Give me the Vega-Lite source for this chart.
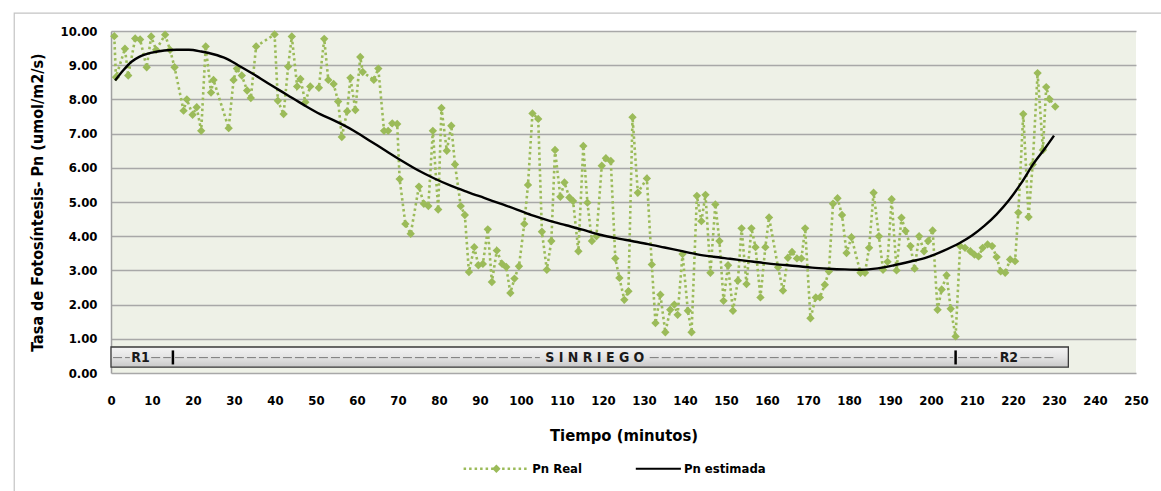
{
  "$schema": "https://vega.github.io/schema/vega-lite/v6.json",
  "width": 1025,
  "height": 342,
  "autosize": {"type": "none"},
  "padding": {"left": 111, "top": 31, "right": 25, "bottom": 118},
  "background": "#ffffff",
  "resolve": {"axis": {"x": "independent", "y": "independent"}},
  "config": {
    "view": {"fill": "#eef1e7", "stroke": null},
    "font": "Liberation Sans Narrow, DejaVu Sans Condensed, sans-serif",
    "axis": {
      "labelFont": "Liberation Sans Narrow, DejaVu Sans Condensed, sans-serif",
      "titleFont": "Liberation Sans Narrow, DejaVu Sans Condensed, sans-serif",
      "labelFontWeight": "bold",
      "titleFontWeight": "bold",
      "labelColor": "#000000",
      "titleColor": "#000000",
      "labelOverlap": false,
      "ticks": false
    }
  },
  "datasets": {
    "real": [
      {"t": 0.8, "pn": 9.85}, {"t": 1.2, "pn": 8.65}, {"t": 3.4, "pn": 9.48}, {"t": 4.2, "pn": 8.7},
      {"t": 5.9, "pn": 9.78}, {"t": 7.1, "pn": 9.75}, {"t": 8.7, "pn": 8.94}, {"t": 9.8, "pn": 9.84},
      {"t": 11.0, "pn": 9.45}, {"t": 13.2, "pn": 9.89}, {"t": 14.4, "pn": 9.45}, {"t": 15.5, "pn": 8.94},
      {"t": 17.7, "pn": 7.67}, {"t": 18.5, "pn": 8.0}, {"t": 19.9, "pn": 7.55}, {"t": 20.9, "pn": 7.77},
      {"t": 22.0, "pn": 7.08}, {"t": 23.1, "pn": 9.55}, {"t": 24.4, "pn": 8.2}, {"t": 25.0, "pn": 8.57},
      {"t": 28.7, "pn": 7.16}, {"t": 29.9, "pn": 8.57}, {"t": 30.7, "pn": 8.9}, {"t": 31.9, "pn": 8.7},
      {"t": 33.2, "pn": 8.26}, {"t": 34.1, "pn": 8.04}, {"t": 35.4, "pn": 9.55}, {"t": 39.9, "pn": 9.9},
      {"t": 40.7, "pn": 7.96}, {"t": 42.1, "pn": 7.57}, {"t": 43.2, "pn": 8.96}, {"t": 44.1, "pn": 9.84},
      {"t": 45.4, "pn": 8.38}, {"t": 46.2, "pn": 8.6}, {"t": 47.4, "pn": 7.92}, {"t": 48.6, "pn": 8.38},
      {"t": 50.7, "pn": 8.34}, {"t": 52.0, "pn": 9.77}, {"t": 53.0, "pn": 8.57}, {"t": 54.3, "pn": 8.45},
      {"t": 55.4, "pn": 7.94}, {"t": 56.3, "pn": 6.9}, {"t": 57.6, "pn": 7.65}, {"t": 58.4, "pn": 8.63},
      {"t": 59.6, "pn": 7.69}, {"t": 60.8, "pn": 9.24}, {"t": 61.4, "pn": 8.8}, {"t": 64.1, "pn": 8.57},
      {"t": 65.2, "pn": 8.9}, {"t": 66.6, "pn": 7.08}, {"t": 67.6, "pn": 7.08}, {"t": 68.6, "pn": 7.3},
      {"t": 69.8, "pn": 7.28}, {"t": 70.4, "pn": 5.67}, {"t": 71.8, "pn": 4.36}, {"t": 73.1, "pn": 4.07},
      {"t": 75.1, "pn": 5.45}, {"t": 76.3, "pn": 4.95}, {"t": 77.4, "pn": 4.88}, {"t": 78.5, "pn": 7.08},
      {"t": 79.8, "pn": 4.78}, {"t": 80.6, "pn": 7.75}, {"t": 81.9, "pn": 6.5}, {"t": 83.0, "pn": 7.23},
      {"t": 83.9, "pn": 6.1}, {"t": 85.3, "pn": 4.88}, {"t": 86.3, "pn": 4.62}, {"t": 87.3, "pn": 2.95},
      {"t": 88.6, "pn": 3.68}, {"t": 89.6, "pn": 3.15}, {"t": 90.7, "pn": 3.19}, {"t": 91.9, "pn": 4.2},
      {"t": 92.9, "pn": 2.66}, {"t": 94.1, "pn": 3.58}, {"t": 95.4, "pn": 3.19}, {"t": 96.4, "pn": 3.1},
      {"t": 97.4, "pn": 2.34}, {"t": 98.4, "pn": 2.76}, {"t": 99.5, "pn": 3.12}, {"t": 100.8, "pn": 4.36},
      {"t": 101.7, "pn": 5.5}, {"t": 102.8, "pn": 7.59}, {"t": 104.2, "pn": 7.43}, {"t": 105.1, "pn": 4.13},
      {"t": 106.3, "pn": 3.02}, {"t": 107.4, "pn": 3.86}, {"t": 108.3, "pn": 6.52}, {"t": 109.6, "pn": 5.15},
      {"t": 110.6, "pn": 5.57}, {"t": 111.8, "pn": 5.13}, {"t": 112.7, "pn": 5.03}, {"t": 114.0, "pn": 3.56},
      {"t": 115.2, "pn": 6.64}, {"t": 116.2, "pn": 4.98}, {"t": 117.3, "pn": 3.86}, {"t": 118.4, "pn": 4.0},
      {"t": 119.7, "pn": 6.06}, {"t": 120.7, "pn": 6.28}, {"t": 121.9, "pn": 6.2}, {"t": 123.0, "pn": 3.35},
      {"t": 124.0, "pn": 2.78}, {"t": 125.2, "pn": 2.14}, {"t": 126.2, "pn": 2.39}, {"t": 127.2, "pn": 7.48},
      {"t": 128.5, "pn": 5.27}, {"t": 130.7, "pn": 5.69}, {"t": 131.9, "pn": 3.17}, {"t": 132.8, "pn": 1.46},
      {"t": 134.0, "pn": 2.29}, {"t": 135.2, "pn": 1.19}, {"t": 136.4, "pn": 1.85}, {"t": 137.4, "pn": 2.0},
      {"t": 138.2, "pn": 1.7}, {"t": 139.4, "pn": 3.48}, {"t": 140.7, "pn": 1.82}, {"t": 141.6, "pn": 1.19},
      {"t": 142.9, "pn": 5.18}, {"t": 144.0, "pn": 4.44}, {"t": 145.0, "pn": 5.21}, {"t": 146.2, "pn": 2.93},
      {"t": 147.4, "pn": 4.93}, {"t": 148.4, "pn": 3.86}, {"t": 149.4, "pn": 2.11}, {"t": 150.5, "pn": 3.15},
      {"t": 151.7, "pn": 1.82}, {"t": 152.9, "pn": 2.7}, {"t": 153.8, "pn": 4.23}, {"t": 155.0, "pn": 2.6},
      {"t": 156.2, "pn": 4.23}, {"t": 157.2, "pn": 3.68}, {"t": 158.4, "pn": 2.21}, {"t": 159.6, "pn": 3.68},
      {"t": 160.5, "pn": 4.55}, {"t": 162.7, "pn": 3.09}, {"t": 163.9, "pn": 2.41}, {"t": 165.1, "pn": 3.37},
      {"t": 166.1, "pn": 3.54}, {"t": 167.3, "pn": 3.35}, {"t": 168.4, "pn": 3.35}, {"t": 169.3, "pn": 4.23},
      {"t": 170.6, "pn": 1.6}, {"t": 171.9, "pn": 2.21}, {"t": 172.9, "pn": 2.21}, {"t": 174.1, "pn": 2.58},
      {"t": 175.1, "pn": 2.97}, {"t": 176.1, "pn": 4.95}, {"t": 177.2, "pn": 5.11}, {"t": 178.3, "pn": 4.62},
      {"t": 179.4, "pn": 3.51}, {"t": 180.6, "pn": 3.97}, {"t": 182.8, "pn": 2.93}, {"t": 183.9, "pn": 2.93},
      {"t": 184.9, "pn": 3.66}, {"t": 186.0, "pn": 5.27}, {"t": 187.3, "pn": 4.0}, {"t": 188.3, "pn": 3.02},
      {"t": 189.4, "pn": 3.25}, {"t": 190.4, "pn": 5.08}, {"t": 191.6, "pn": 3.0}, {"t": 192.8, "pn": 4.54},
      {"t": 193.8, "pn": 4.15}, {"t": 195.0, "pn": 3.71}, {"t": 196.0, "pn": 3.05}, {"t": 197.1, "pn": 4.0},
      {"t": 198.3, "pn": 3.56}, {"t": 199.3, "pn": 3.86}, {"t": 200.4, "pn": 4.17}, {"t": 201.6, "pn": 1.85},
      {"t": 202.6, "pn": 2.44}, {"t": 203.8, "pn": 2.86}, {"t": 204.8, "pn": 1.88}, {"t": 206.0, "pn": 1.07},
      {"t": 207.1, "pn": 3.71}, {"t": 208.3, "pn": 3.66}, {"t": 209.6, "pn": 3.56}, {"t": 210.6, "pn": 3.46},
      {"t": 211.6, "pn": 3.41}, {"t": 212.6, "pn": 3.66}, {"t": 213.8, "pn": 3.76}, {"t": 214.9, "pn": 3.71},
      {"t": 216.0, "pn": 3.39}, {"t": 217.0, "pn": 2.97}, {"t": 218.1, "pn": 2.93}, {"t": 219.3, "pn": 3.32},
      {"t": 220.5, "pn": 3.27}, {"t": 221.3, "pn": 4.69}, {"t": 222.5, "pn": 7.57}, {"t": 223.8, "pn": 4.56},
      {"t": 224.8, "pn": 6.1}, {"t": 226.0, "pn": 8.77}, {"t": 227.3, "pn": 6.52}, {"t": 228.1, "pn": 8.36},
      {"t": 228.9, "pn": 8.01}, {"t": 230.3, "pn": 7.79}
    ],
    "est": [
      {"t": 1, "pn": 8.55}, {"t": 3, "pn": 8.85}, {"t": 5, "pn": 9.1}, {"t": 7, "pn": 9.25},
      {"t": 10, "pn": 9.37}, {"t": 13, "pn": 9.43}, {"t": 16, "pn": 9.45}, {"t": 19, "pn": 9.45},
      {"t": 22, "pn": 9.4}, {"t": 25, "pn": 9.32}, {"t": 28, "pn": 9.2}, {"t": 31, "pn": 9.0},
      {"t": 35, "pn": 8.72}, {"t": 39, "pn": 8.42}, {"t": 43, "pn": 8.13}, {"t": 47, "pn": 7.84},
      {"t": 51, "pn": 7.57}, {"t": 55, "pn": 7.35}, {"t": 59, "pn": 7.1}, {"t": 63, "pn": 6.8},
      {"t": 67, "pn": 6.5}, {"t": 71, "pn": 6.2}, {"t": 75, "pn": 5.92}, {"t": 79, "pn": 5.68},
      {"t": 83, "pn": 5.47}, {"t": 87, "pn": 5.29}, {"t": 91, "pn": 5.12}, {"t": 95, "pn": 4.95},
      {"t": 99, "pn": 4.78}, {"t": 103, "pn": 4.6}, {"t": 107, "pn": 4.45}, {"t": 111, "pn": 4.32},
      {"t": 115, "pn": 4.19}, {"t": 119, "pn": 4.05}, {"t": 123, "pn": 3.95}, {"t": 127, "pn": 3.86},
      {"t": 131, "pn": 3.77}, {"t": 135, "pn": 3.67}, {"t": 139, "pn": 3.57}, {"t": 143, "pn": 3.47},
      {"t": 147, "pn": 3.4}, {"t": 151, "pn": 3.34}, {"t": 155, "pn": 3.28}, {"t": 159, "pn": 3.22},
      {"t": 163, "pn": 3.17}, {"t": 167, "pn": 3.13}, {"t": 171, "pn": 3.08}, {"t": 175, "pn": 3.05},
      {"t": 179, "pn": 3.03}, {"t": 183, "pn": 3.02}, {"t": 187, "pn": 3.06}, {"t": 191, "pn": 3.15},
      {"t": 195, "pn": 3.26}, {"t": 199, "pn": 3.38}, {"t": 203, "pn": 3.57}, {"t": 207, "pn": 3.8},
      {"t": 210, "pn": 4.02}, {"t": 213, "pn": 4.3}, {"t": 216, "pn": 4.64}, {"t": 219, "pn": 5.05},
      {"t": 222, "pn": 5.55}, {"t": 225, "pn": 6.12}, {"t": 228, "pn": 6.6}, {"t": 230, "pn": 6.94}
    ],
    "tramos": [
      {"desde": 0.5, "hasta": 4.6}, {"desde": 9.8, "hasta": 14.6}, {"desde": 15.6, "hasta": 104.6},
      {"desde": 131.4, "hasta": 205.4}, {"desde": 206.6, "hasta": 216.2}, {"desde": 221.8, "hasta": 230.5}
    ],
    "cortes": [{"t": 15.1}, {"t": 206.0}],
    "etapas": [
      {"t": 7.2, "etiqueta": "R1"},
      {"t": 118.0, "etiqueta": "S I N  R I E G O"},
      {"t": 219.0, "etiqueta": "R2"}
    ],
    "leyenda": [
      {"desde": 86, "hasta": 102, "marca": 94, "texto": "Pn Real", "serie": "real"},
      {"desde": 128, "hasta": 139, "marca": null, "texto": "Pn estimada", "serie": "est"}
    ]
  },
  "layer": [
    {
      "data": {"name": "real"},
      "mark": {"type": "line", "color": "#9bbb59", "strokeWidth": 2.6, "strokeDash": [2.5, 3]},
      "encoding": {
        "x": {
          "field": "t", "type": "quantitative",
          "scale": {"domain": [0, 250], "nice": false},
          "axis": {
            "values": [0, 10, 20, 30, 40, 50, 60, 70, 80, 90, 100, 110, 120, 130, 140, 150, 160, 170, 180, 190, 200, 210, 220, 230, 240, 250],
            "orient": "bottom",
            "grid": false,
            "domain": false,
            "labelFontSize": 13,
            "labelPadding": 21,
            "labelFlush": false,
            "title": "Tiempo (minutos)",
            "titleFontSize": 16.5,
            "titlePadding": 20
          }
        },
        "y": {
          "field": "pn", "type": "quantitative",
          "scale": {"domain": [0, 10], "nice": false},
          "axis": {
            "values": [0, 1, 2, 3, 4, 5, 6, 7, 8, 9, 10],
            "orient": "left",
            "format": ".2f",
            "grid": true,
            "gridColor": "#a8a8a8",
            "gridWidth": 1.5,
            "domain": true,
            "domainColor": "#a0a0a0",
            "domainWidth": 1.5,
            "labelFontSize": 13,
            "labelPadding": 14,
            "labelFlush": false,
            "title": "Tasa de Fotosíntesis- Pn (umol/m2/s)",
            "titleFontSize": 16,
            "titlePadding": 15
          }
        }
      }
    },
    {
      "data": {"values": [{}]},
      "mark": {"type": "rect", "fill": "#8c8c8c", "opacity": 0.55, "xOffset": 3, "yOffset": 3},
      "encoding": {
        "x": {"datum": 0, "type": "quantitative", "axis": null},
        "x2": {"datum": 233.5},
        "y": {"datum": 0.76, "type": "quantitative", "axis": null},
        "y2": {"datum": 0.17}
      }
    },
    {
      "data": {"values": [{}]},
      "mark": {
        "type": "rect",
        "stroke": "#3a3a3a",
        "strokeWidth": 1.3,
        "fill": {
          "gradient": "linear", "x1": 0, "y1": 0, "x2": 0, "y2": 1,
          "stops": [
            {"offset": 0, "color": "#f4f4f4"},
            {"offset": 0.5, "color": "#e4e4e4"},
            {"offset": 1, "color": "#c8c8c8"}
          ]
        }
      },
      "encoding": {
        "x": {"datum": 0, "type": "quantitative", "axis": null},
        "x2": {"datum": 233.5},
        "y": {"datum": 0.76, "type": "quantitative", "axis": null},
        "y2": {"datum": 0.17}
      }
    },
    {
      "data": {"name": "tramos"},
      "mark": {"type": "rule", "color": "#7a7a7a", "strokeWidth": 1, "strokeDash": [9, 3]},
      "encoding": {
        "x": {"field": "desde", "type": "quantitative", "axis": null},
        "x2": {"field": "hasta"},
        "y": {"datum": 0.45, "type": "quantitative", "axis": null}
      }
    },
    {
      "data": {"name": "cortes"},
      "mark": {"type": "rule", "color": "#000000", "strokeWidth": 2.5},
      "encoding": {
        "x": {"field": "t", "type": "quantitative", "axis": null},
        "y": {"datum": 0.66, "type": "quantitative", "axis": null},
        "y2": {"datum": 0.25}
      }
    },
    {
      "data": {"name": "etapas"},
      "mark": {"type": "text", "fontWeight": "bold", "fontSize": 14, "color": "#1a1a1a", "baseline": "middle", "align": "center"},
      "encoding": {
        "x": {"field": "t", "type": "quantitative", "axis": null},
        "y": {"datum": 0.45, "type": "quantitative", "axis": null},
        "text": {"field": "etiqueta"}
      }
    },
    {
      "data": {"name": "real"},
      "mark": {"type": "point", "shape": "diamond", "filled": true, "color": "#9bbb59", "opacity": 1, "size": 70},
      "encoding": {
        "x": {"field": "t", "type": "quantitative", "axis": null},
        "y": {"field": "pn", "type": "quantitative", "axis": null}
      }
    },
    {
      "data": {"name": "est"},
      "mark": {"type": "line", "color": "#000000", "strokeWidth": 2.4, "interpolate": "monotone"},
      "encoding": {
        "x": {"field": "t", "type": "quantitative", "axis": null},
        "y": {"field": "pn", "type": "quantitative", "axis": null}
      }
    },
    {
      "data": {"name": "leyenda"},
      "transform": [{"filter": "datum.serie === 'real'"}],
      "mark": {"type": "rule", "color": "#9bbb59", "strokeWidth": 2.6, "strokeDash": [2.5, 3]},
      "encoding": {
        "x": {"field": "desde", "type": "quantitative", "axis": null},
        "x2": {"field": "hasta"},
        "y": {"datum": -2.8, "type": "quantitative", "axis": null}
      }
    },
    {
      "data": {"name": "leyenda"},
      "transform": [{"filter": "datum.serie === 'real'"}],
      "mark": {"type": "point", "shape": "diamond", "filled": true, "color": "#9bbb59", "opacity": 1, "size": 70},
      "encoding": {
        "x": {"field": "marca", "type": "quantitative", "axis": null},
        "y": {"datum": -2.8, "type": "quantitative", "axis": null}
      }
    },
    {
      "data": {"name": "leyenda"},
      "transform": [{"filter": "datum.serie === 'est'"}],
      "mark": {"type": "rule", "color": "#000000", "strokeWidth": 2.2},
      "encoding": {
        "x": {"field": "desde", "type": "quantitative", "axis": null},
        "x2": {"field": "hasta"},
        "y": {"datum": -2.8, "type": "quantitative", "axis": null}
      }
    },
    {
      "data": {"name": "leyenda"},
      "mark": {"type": "text", "fontWeight": "bold", "fontSize": 13, "color": "#000000", "align": "left", "baseline": "middle", "dx": 3},
      "encoding": {
        "x": {"field": "hasta", "type": "quantitative", "axis": null},
        "y": {"datum": -2.8, "type": "quantitative", "axis": null},
        "text": {"field": "texto"}
      }
    },
    {
      "data": {"values": [{}]},
      "mark": {"type": "rect", "fill": null, "stroke": "#c4c4c4", "strokeWidth": 1.2},
      "encoding": {
        "x": {"datum": -23.6, "type": "quantitative", "axis": null},
        "x2": {"datum": 275},
        "y": {"datum": 10.52, "type": "quantitative", "axis": null},
        "y2": {"datum": -4}
      }
    }
  ]
}
